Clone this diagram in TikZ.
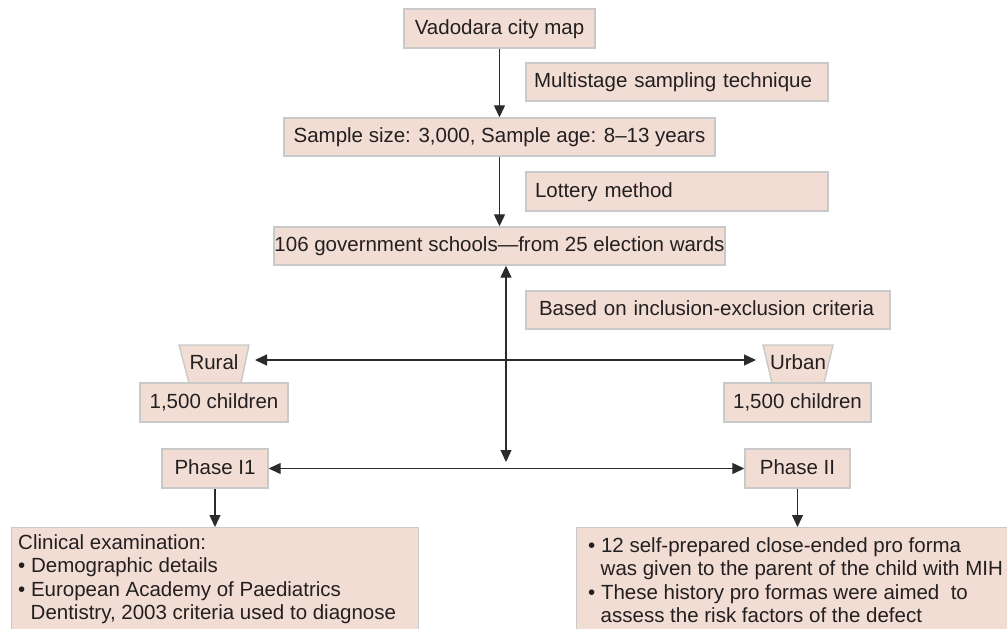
\documentclass[tikz,border=0pt]{standalone}
\usepackage{fontspec}
\setmainfont{Liberation Sans}
\usetikzlibrary{arrows.meta}
\definecolor{boxc}{HTML}{F2DDD4}
\definecolor{bordc}{HTML}{C9C9C9}
\definecolor{linec}{HTML}{2B2B2B}
\definecolor{txtc}{HTML}{231F20}
\begin{document}
\begin{tikzpicture}[x=1pt,y=-1pt,
  box/.style={draw=bordc, line width=1.4pt, fill=boxc, inner sep=0pt,
    text height=15.5pt, text depth=4pt, minimum height=38pt, text=txtc,
    font=\fontsize{20.5}{23.5}\selectfont},
  lbl/.style={box, align=left},
  trapbox/.style={draw=bordc, line width=1.4pt, fill=boxc},
  plain/.style={inner sep=0pt, text height=15.5pt, text depth=4pt, text=txtc,
    font=\fontsize{20.5}{23.5}\selectfont},
  txt/.style={inner sep=0pt, anchor=base west, text=txtc,
    font=\fontsize{20.5}{23.5}\selectfont},
  arr/.style={draw=linec, line width=1.3pt, -{Triangle[length=12pt,width=11pt]}},
  dbl/.style={draw=linec, line width=1.3pt,
    {Triangle[length=12pt,width=11pt]}-{Triangle[length=12pt,width=11pt]}}
]
\useasboundingbox (0,0) rectangle (1007,629);
\clip (0,0) rectangle (1007,629);

% top chain
\node[box, minimum width=191pt, minimum height=39pt] (vad) at (499.5,28.5) {Vadodara city map};
\node[lbl, text width=286pt, inner xsep=8pt] (multi) at (677,82) {Multistage sampling technique};
\node[box, minimum width=431pt] (samp) at (499.5,137) {Sample size: 3,000, Sample age: 8–13 years};
\node[lbl, text width=284pt, inner xsep=9pt, minimum height=39pt] (lot) at (677,191.5) {Lottery method};
\node[box, minimum width=451pt] (gov) at (499.5,246) {106 government schools—from 25 election wards};
\node[lbl, text width=338pt, inner xsep=13pt] (based) at (708,310) {Based on inclusion-exclusion criteria};

% rural / urban
\path[trapbox] (179,345) -- (249,345) -- (241,383) -- (189,383) -- cycle;
\node[plain] (rural) at (214,364) {Rural};
\node[box, minimum width=148pt, minimum height=39pt] (rch) at (214,402.5) {1,500 children};
\path[trapbox] (763,345) -- (833,345) -- (824,383) -- (772,383) -- cycle;
\node[plain] (urban) at (798,364) {Urban};
\node[box, minimum width=147pt, minimum height=39pt] (uch) at (797.5,402.5) {1,500 children};

% phases
\node[box, minimum width=106pt, minimum height=39pt] (ph1) at (215,468.5) {Phase I1};
\node[box, minimum width=105pt, minimum height=39pt] (ph2) at (797.5,468.5) {Phase II};

% bottom boxes
\node[box, anchor=north west, minimum width=407pt, minimum height=130pt] (clin) at (11,527) {};
\node[box, anchor=north west, minimum width=450pt, minimum height=130pt] (hist) at (576,527) {};

\node[txt] (c1) at (18,549) {Clinical examination:};
\node[txt] (c2) at (18,572.5) {• Demographic details};
\node[txt] (c3) at (18,596) {• European Academy of Paediatrics};
\node[txt] (c4) at (30.5,619.5) {Dentistry, 2003 criteria used to diagnose};

\node[txt] (h1) at (588,552) {• 12 self-prepared close-ended pro forma};
\node[txt] (h2) at (600.5,575.5) {was given to the parent of the child with MIH};
\node[txt] (h3) at (588,599) {• These history pro formas were aimed\ \ to};
\node[txt] (h4) at (600.5,622.5) {assess the risk factors of the defect};

% connectors
\draw[arr] (vad.south) -- (samp.north);
\draw[arr] (samp.south) -- (gov.north);
\coordinate (vj) at (506,462);
\draw[dbl] (vj) -- (vj |- gov.south);
\coordinate (rl) at (255,360);
\coordinate (ul) at (756,360);
\draw[dbl] (rl) -- (ul);
\draw[dbl] (ph1.east) -- (ph2.west);
\draw[arr] (ph1.south) -- (ph1.south |- clin.north);
\draw[arr] (ph2.south) -- (ph2.south |- hist.north);
\end{tikzpicture}
\end{document}
